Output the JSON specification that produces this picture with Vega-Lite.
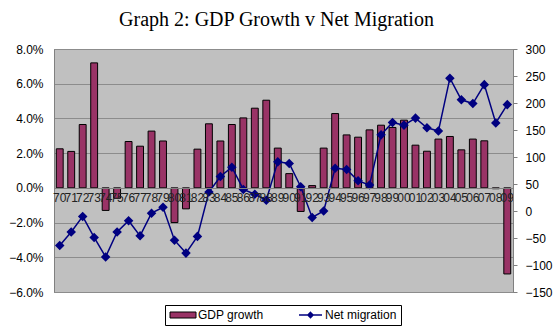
{
  "$schema": "https://vega.github.io/schema/vega-lite/v6.json",
  "width": 459,
  "height": 243,
  "autosize": {"type": "none"},
  "padding": {"left": 54, "top": 49, "right": 44, "bottom": 42},
  "background": "white",
  "title": {
    "text": "Graph 2: GDP Growth v Net Migration",
    "font": "Liberation Serif",
    "fontSize": 20,
    "fontWeight": "normal",
    "color": "#000000",
    "anchor": "middle",
    "frame": "group",
    "offset": 13,
    "dx": -7
  },
  "config": {
    "view": {"fill": "#C0C0C0", "stroke": "#808080", "strokeWidth": 1},
    "axis": {
      "labelFont": "Liberation Sans",
      "labelFontSize": 12,
      "labelColor": "#000000",
      "titleFont": "Liberation Sans"
    },
    "legend": {"labelFont": "Liberation Sans", "labelFontSize": 12, "labelColor": "#000000"}
  },
  "data": {
    "values": [
      {"year": "70", "gdp": 0.0225, "mig": -64},
      {"year": "71", "gdp": 0.0210, "mig": -39},
      {"year": "72", "gdp": 0.0365, "mig": -10},
      {"year": "73", "gdp": 0.0720, "mig": -49},
      {"year": "74", "gdp": -0.0130, "mig": -85},
      {"year": "75", "gdp": -0.0060, "mig": -39},
      {"year": "76", "gdp": 0.0267, "mig": -18},
      {"year": "77", "gdp": 0.0240, "mig": -46},
      {"year": "78", "gdp": 0.0327, "mig": -4},
      {"year": "79", "gdp": 0.0270, "mig": 7},
      {"year": "80", "gdp": -0.0200, "mig": -54},
      {"year": "81", "gdp": -0.0121, "mig": -78},
      {"year": "82", "gdp": 0.0223, "mig": -47},
      {"year": "83", "gdp": 0.0369, "mig": 35},
      {"year": "84", "gdp": 0.0270, "mig": 64},
      {"year": "85", "gdp": 0.0365, "mig": 81},
      {"year": "86", "gdp": 0.0403, "mig": 40},
      {"year": "87", "gdp": 0.0459, "mig": 31},
      {"year": "88", "gdp": 0.0505, "mig": 20},
      {"year": "89", "gdp": 0.0229, "mig": 91},
      {"year": "90", "gdp": 0.0082, "mig": 88},
      {"year": "91", "gdp": -0.0136, "mig": 45},
      {"year": "92", "gdp": 0.0013, "mig": -12},
      {"year": "93", "gdp": 0.0229, "mig": 0},
      {"year": "94", "gdp": 0.0428, "mig": 79},
      {"year": "95", "gdp": 0.0305, "mig": 77},
      {"year": "96", "gdp": 0.0292, "mig": 56},
      {"year": "97", "gdp": 0.0334, "mig": 48},
      {"year": "98", "gdp": 0.0361, "mig": 141},
      {"year": "99", "gdp": 0.0348, "mig": 164},
      {"year": "00", "gdp": 0.0390, "mig": 159},
      {"year": "01", "gdp": 0.0246, "mig": 172},
      {"year": "02", "gdp": 0.0211, "mig": 154},
      {"year": "03", "gdp": 0.0281, "mig": 148},
      {"year": "04", "gdp": 0.0296, "mig": 246},
      {"year": "05", "gdp": 0.0219, "mig": 206},
      {"year": "06", "gdp": 0.0281, "mig": 199},
      {"year": "07", "gdp": 0.0271, "mig": 234},
      {"year": "08", "gdp": -0.0005, "mig": 163},
      {"year": "09", "gdp": -0.0496, "mig": 197}
    ]
  },
  "encoding": {
    "x": {
      "field": "year",
      "type": "nominal",
      "sort": null,
      "scale": {"paddingInner": 0.4, "paddingOuter": 0.2},
      "axis": {
        "title": null,
        "orient": "bottom",
        "offset": -104,
        "labelAngle": 0,
        "labelOverlap": false,
        "labelBound": false,
        "labelLimit": 0,
        "labelPadding": 4,
        "labelColor": "#222222",
        "ticks": false,
        "domain": true,
        "domainColor": "#808080",
        "zindex": 1
      }
    }
  },
  "layer": [
    {
      "mark": {"type": "bar", "stroke": "#000000", "strokeWidth": 1},
      "encoding": {
        "y": {
          "field": "gdp",
          "type": "quantitative",
          "scale": {"domain": [-0.06, 0.08], "nice": false, "zero": false},
          "axis": {
            "title": null,
            "orient": "left",
            "values": [-0.06, -0.04, -0.02, 0, 0.02, 0.04, 0.06, 0.08],
            "format": ".1%",
            "grid": true,
            "gridColor": "#8c8c8c",
            "gridWidth": 1,
            "ticks": false,
            "labelPadding": 11,
            "domainColor": "#808080",
            "zindex": 0
          }
        },
        "fill": {
          "datum": "GDP growth",
          "scale": {"domain": ["GDP growth"], "range": ["#993366"]},
          "legend": {
            "title": null,
            "orient": "none",
            "direction": "horizontal",
            "legendX": 111,
            "legendY": 256,
            "padding": 4,
            "symbolSize": 100,
            "symbolType": "M-2.6,-0.6H2.6V0.6H-2.6Z",
            "symbolStrokeColor": "#000000",
            "symbolStrokeWidth": 1,
            "symbolOpacity": 1,
            "symbolOffset": 8,
            "labelOffset": 9,
            "labelExpr": "''",
            "zindex": 3
          }
        }
      }
    },
    {
      "mark": {
        "type": "line",
        "strokeWidth": 1.5,
        "point": {"shape": "diamond", "filled": true, "fill": "#000080", "size": 45}
      },
      "encoding": {
        "y": {
          "field": "mig",
          "type": "quantitative",
          "scale": {"domain": [-150, 300], "nice": false, "zero": false},
          "axis": {
            "title": null,
            "orient": "right",
            "values": [-150, -100, -50, 0, 50, 100, 150, 200, 250, 300],
            "grid": false,
            "tickSize": 4,
            "tickColor": "#808080",
            "labelPadding": 8,
            "domainColor": "#808080",
            "zindex": 1
          }
        },
        "stroke": {
          "datum": "Net migration",
          "scale": {"domain": ["GDP growth", "Net migration"], "range": ["transparent", "#000080"]},
          "legend": {
            "title": null,
            "orient": "none",
            "direction": "horizontal",
            "legendX": 111,
            "legendY": 256,
            "strokeColor": "#000000",
            "fillColor": "#ffffff",
            "padding": 4,
            "symbolSize": 100,
            "symbolType": "M-2.2,0H2.4M0.1,-0.5L0.6,0L0.1,0.5L-0.4,0Z",
            "symbolFillColor": "transparent",
            "symbolStrokeWidth": 1.6,
            "symbolOpacity": 1,
            "symbolOffset": 8,
            "labelOffset": 9,
            "columnPadding": 31,
            "zindex": 1
          }
        }
      }
    }
  ],
  "resolve": {"scale": {"y": "independent"}}
}
